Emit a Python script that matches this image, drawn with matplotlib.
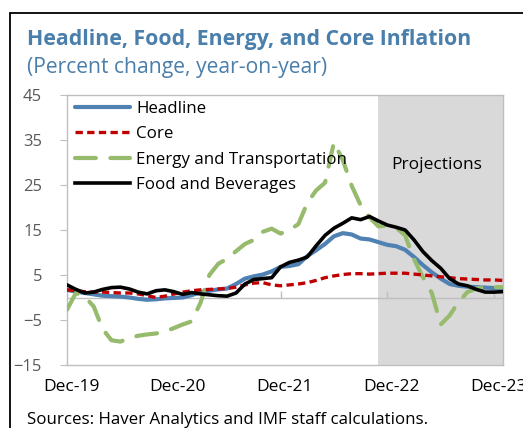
import matplotlib
matplotlib.use("Agg")
import matplotlib.pyplot as plt
import matplotlib.transforms as mtransforms
from matplotlib.patches import Rectangle

plt.rcParams["font.family"] = ["Open Sans", "DejaVu Sans"]

# ------------------------------------------------------------------ #
#  Data (monthly, Dec-19 .. Jan-24), percent change y/y
# ------------------------------------------------------------------ #
headline = [1.7, 1.3, 1.0, 0.7, 0.4, 0.3, 0.2, 0.0, -0.3, -0.5,
            -0.4, -0.2, -0.1, 0.0, 0.5, 1.2, 1.5, 1.8, 2.0, 3.0,
            4.2, 4.7, 5.1, 5.8, 6.8, 7.0, 7.4, 9.2, 10.5, 11.9,
            13.6, 14.3, 14.0, 13.1, 12.9, 12.3, 11.7, 11.4, 10.6, 9.0,
            7.2, 5.6, 4.2, 3.0, 2.6, 2.4, 2.3, 2.2, 2.1, 2.1]
core = [1.7, 1.5, 1.3, 1.2, 1.2, 1.1, 1.0, 1.0, 0.8, 0.4,
        0.0, 0.3, 0.8, 1.2, 1.5, 1.7, 1.8, 1.9, 2.0, 2.3,
        2.8, 3.2, 3.3, 2.8, 2.6, 2.8, 3.0, 3.3, 3.8, 4.4,
        4.8, 5.1, 5.3, 5.3, 5.2, 5.3, 5.4, 5.4, 5.4, 5.2,
        5.0, 4.8, 4.6, 4.4, 4.2, 4.1, 4.0, 3.9, 3.9, 3.8]
energy = [-2.7, 1.0, 0.2, -2.0, -7.0, -9.5, -9.8, -9.0, -8.5, -8.2,
          -8.0, -7.6, -6.8, -6.0, -5.3, -1.2, 5.0, 7.5, 8.6, 10.3,
          11.9, 12.8, 14.6, 15.3, 14.2, 15.0, 16.3, 21.0, 23.8, 25.5,
          34.5, 30.5, 24.8, 20.5, 17.8, 15.8, 16.0, 15.5, 13.8, 8.5,
          4.5, 1.0, -6.0, -4.0, -1.0, 1.2, 2.0, 2.3, 2.3, 2.3]
food = [2.8, 1.8, 1.0, 1.2, 1.8, 2.2, 2.3, 1.9, 1.2, 0.8,
        1.5, 1.7, 1.3, 0.7, 1.1, 0.8, 0.6, 0.4, 0.3, 1.0,
        3.0, 4.0, 4.2, 4.4, 6.8, 7.8, 8.3, 9.0, 11.5, 13.8,
        15.4, 16.5, 17.7, 17.3, 18.0, 17.0, 16.1, 15.6, 15.0, 12.8,
        10.2, 8.2, 6.5, 4.2, 3.0, 2.6, 1.8, 1.2, 1.2, 1.3]
months = list(range(len(headline)))
tick_pos = [0, 12, 24, 36, 48]
tick_labels = ["Dec-19", "Dec-20", "Dec-21", "Dec-22", "Dec-23"]
proj_start = 35
yticks = [45, 35, 25, 15, 5, -5, -15]

TITLE_BLUE = "#4A7EAB"
GRAY_TXT = "#595959"
AXIS_GRAY = "#BFBFBF"

W, H = 523, 428
fig = plt.figure(figsize=(W / 100, H / 100), dpi=100)
ax = fig.add_axes([67 / W, 1 - 365 / H, (503 - 67) / W, (365 - 95) / H])

ax.axvspan(proj_start, months[-1], color="#D9D9D9", lw=0, zorder=0)
ax.axhline(0, color=AXIS_GRAY, lw=1, zorder=1)
ax.vlines(tick_pos, 0, 1.4, color=AXIS_GRAY, lw=1, zorder=1)

ax.plot(months, headline, color="#4F81B3", lw=3.0, label="Headline", zorder=3,
        solid_capstyle="round")
ax.plot(months, core, color="#C00000", lw=2.4, ls=(0, (2.2, 1.3)), label="Core",
        zorder=4)
ax.plot(months, energy, color="#97BB6D", lw=3.0, ls=(0, (5, 3.5)),
        label="Energy and Transportation", zorder=3, dash_capstyle="round")
ax.plot(months, food, color="black", lw=2.6, label="Food and Beverages", zorder=5)

ax.set_xlim(months[0], months[-1])
ax.set_ylim(-15, 45)
ax.set_yticks(yticks)
ax.tick_params(axis="y", length=5, color=AXIS_GRAY, labelcolor=GRAY_TXT,
               labelsize=12, pad=13)
ax.set_xticks(tick_pos)
ax.set_xticklabels(tick_labels)
ax.tick_params(axis="x", length=0, labelsize=12.5, labelcolor="black", pad=10)
shift = mtransforms.ScaledTranslation(4 / 100, 0, fig.dpi_scale_trans)
for lbl in ax.get_xticklabels():
    lbl.set_transform(lbl.get_transform() + shift)

for side in ["left", "bottom", "top", "right"]:
    ax.spines[side].set_color(AXIS_GRAY)
    ax.spines[side].set_linewidth(1)

ax.text(0.849, 0.742, "Projections", transform=ax.transAxes, fontsize=12.5,
        ha="center", va="center")

ax.legend(loc="upper left", bbox_to_anchor=(0.0, 1.01), frameon=False,
          fontsize=12.2, handlelength=3.2, handletextpad=0.4,
          labelspacing=0.56, borderaxespad=0.2, borderpad=0.3)

fig.text(27 / W, 1 - 45 / H, "Headline, Food, Energy, and Core Inflation",
         fontsize=15.3, fontweight="bold", color=TITLE_BLUE, va="baseline")
fig.text(27 / W, 1 - 73 / H, "(Percent change, year-on-year)",
         fontsize=15.2, color=TITLE_BLUE, va="baseline")
fig.text(27 / W, 1 - 420 / H, "Sources: Haver Analytics and IMF staff calculations.",
         fontsize=12.2, color="black", va="center")

fig.patches.append(Rectangle((9.5 / W, -0.1), 1.2, (H - 12.5) / H + 0.1,
                             transform=fig.transFigure, fill=False,
                             edgecolor="black", lw=1.3))

fig.savefig("out.png", dpi=100)
